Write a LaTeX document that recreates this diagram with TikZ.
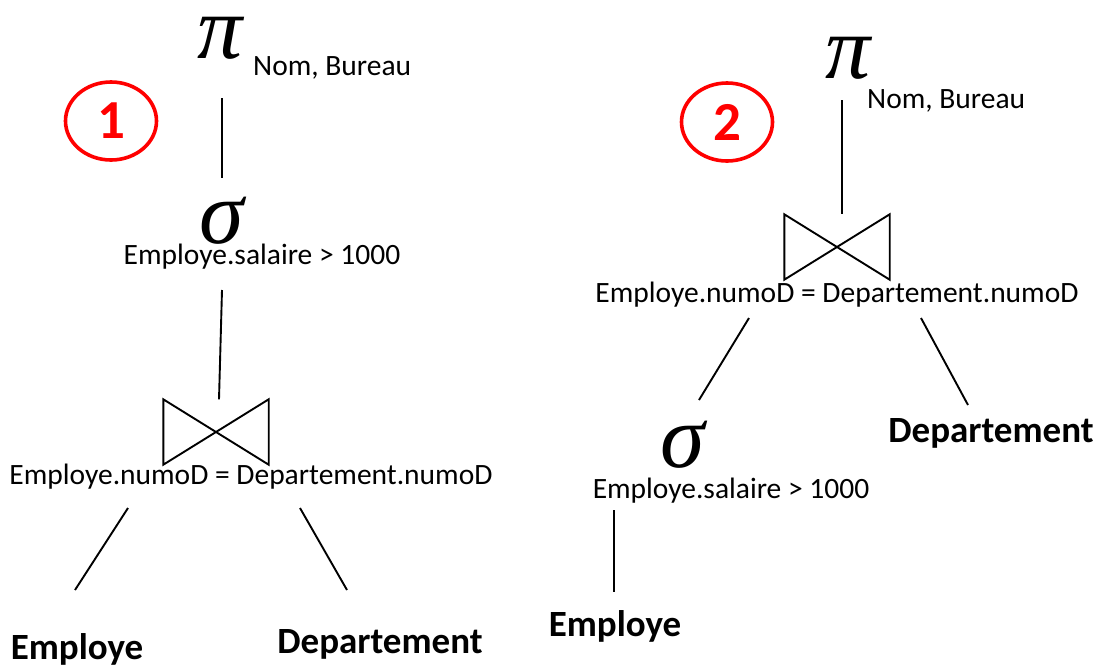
\documentclass[tikz,border=0pt]{standalone}
\usepackage{fontspec}
\setmainfont{Carlito}
\newfontfamily\greekfont{Liberation Serif}
\usetikzlibrary{calc,shapes.geometric}
\begin{document}
\begin{tikzpicture}[x=1pt,y=-1pt,
  edge/.style={line width=1.9pt,black},
  cond/.style={font=\fontsize{29.5}{29.5}\selectfont,anchor=base,inner sep=0pt},
  attrs/.style={font=\fontsize{29.5}{29.5}\selectfont,anchor=base west,inner sep=0pt},
  rel/.style={font=\fontsize{37}{37}\selectfont\bfseries,anchor=base,inner sep=0pt},
  op/.style={font=\greekfont\itshape\fontsize{90}{90}\selectfont,anchor=base,inner sep=0pt},
  joinbox/.style={minimum width=105pt,minimum height=65pt,inner sep=0pt},
  tag/.style={draw=red,line width=3.6pt,ellipse,minimum width=91pt,minimum height=78pt,
    text=red,font=\fontsize{55}{55}\selectfont\bfseries,inner sep=0pt}]
\useasboundingbox (0,0) rectangle (1097,667);

% ---------- plan 1 ----------
\node[tag] (t1) at (111,121) {1};
\node[op] (pi1) at (220,58) {π};
\node[attrs] (pa1) at (253,75) {Nom, Bureau};
\node[op] (sg1) at (222,243) {σ};
\node[cond] (sc1) at (262,264) {Employe.salaire > 1000};
\node[joinbox] (j1) at (216,432) {};
\draw[edge] (j1.north west) -- (j1.south east) -- (j1.north east) -- (j1.south west) -- cycle;
\node[cond] (jc1) at (251,484) {Employe.numoD = Departement.numoD};
\node[rel] (e1) at (77,659) {Employe};
\node[rel] (d1) at (380,653) {Departement};

\draw[edge] ([shift={(2,40)}]pi1.base) -- ([shift={(0,-65)}]sg1.base);
\draw[edge] ([shift={(-40,26)}]sc1.base) -- ([shift={(3,0)}]j1.north);
\draw[edge] ([shift={(-123,24)}]jc1.base) -- ([shift={(-2,-69)}]e1.base);
\draw[edge] ([shift={(49,24)}]jc1.base) -- ([shift={(-33,-63)}]d1.base);

% ---------- plan 2 ----------
\node[tag] (t2) at (727,122) {2};
\node[op] (pi2) at (848,78) {π};
\node[attrs] (pa2) at (867,108) {Nom, Bureau};
\node[joinbox] (j2) at (837,247) {};
\draw[edge] (j2.north west) -- (j2.south east) -- (j2.north east) -- (j2.south west) -- cycle;
\node[cond] (jc2) at (837,302) {Employe.numoD = Departement.numoD};
\node[op] (sg2) at (683,467) {σ};
\node[cond] (sc2) at (731,498) {Employe.salaire > 1000};
\node[rel] (d2) at (991,442) {Departement};
\node[rel] (e2) at (615,636) {Employe};

\draw[edge] ([shift={(-6,22)}]pi2.base) -- ([shift={(5,0)}]j2.north);
\draw[edge] ([shift={(-88,16)}]jc2.base) -- ([shift={(16,-67)}]sg2.base);
\draw[edge] ([shift={(84,16)}]jc2.base) -- ([shift={(-23,-37)}]d2.base);
\draw[edge] ([shift={(-117,12)}]sc2.base) -- ([shift={(-1,-44)}]e2.base);
\end{tikzpicture}
\end{document}
